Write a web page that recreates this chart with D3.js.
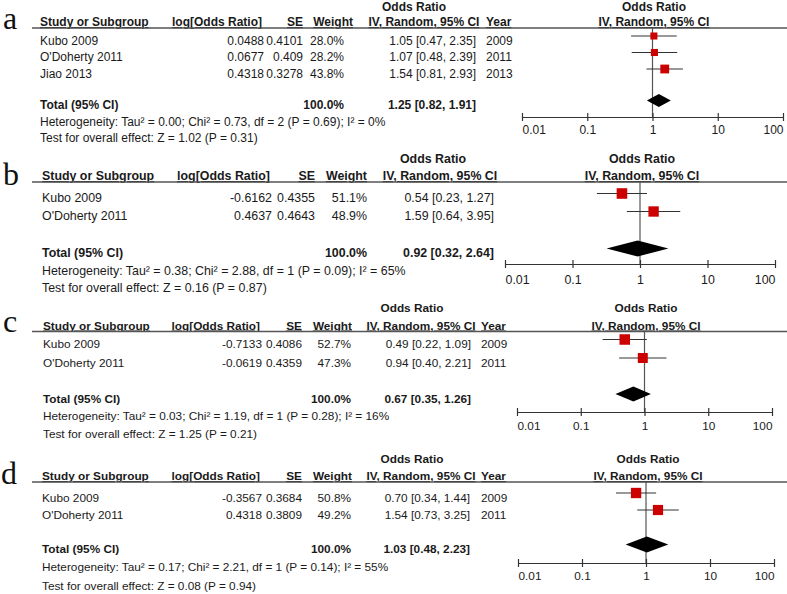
<!DOCTYPE html>
<html>
<head>
<meta charset="utf-8">
<script src="https://cdn.jsdelivr.net/npm/d3@7"></script>
<style>
  html, body { margin: 0; padding: 0; background: #fff; }
  svg { display: block; font-family: "Liberation Sans", Arial, sans-serif; }
</style>
</head>
<body>
<svg id="chart" width="787" height="594"></svg>
<script>
// ---------------- DATA ----------------
const panelLetters = ["a", "b", "c", "d"];
const studyNames = [
  ["Kubo 2009", "O'Doherty 2011", "Jiao 2013"],
  ["Kubo 2009", "O'Doherty 2011"],
  ["Kubo 2009", "O'Doherty 2011"],
  ["Kubo 2009", "O'Doherty 2011"]
];
const logOddsRatio = [
  ["0.0488", "0.0677", "0.4318"],
  ["-0.6162", "0.4637"],
  ["-0.7133", "-0.0619"],
  ["-0.3567", "0.4318"]
];
const seValues = [
  ["0.4101", "0.409", "0.3278"],
  ["0.4355", "0.4643"],
  ["0.4086", "0.4359"],
  ["0.3684", "0.3809"]
];
const weights = [
  [28.0, 28.2, 43.8],
  [51.1, 48.9],
  [52.7, 47.3],
  [50.8, 49.2]
];
const oddsRatio = [
  [1.05, 1.07, 1.54],
  [0.54, 1.59],
  [0.49, 0.94],
  [0.70, 1.54]
];
const ciLower = [
  [0.47, 0.48, 0.81],
  [0.23, 0.64],
  [0.22, 0.40],
  [0.34, 0.73]
];
const ciUpper = [
  [2.35, 2.39, 2.93],
  [1.27, 3.95],
  [1.09, 2.21],
  [1.44, 3.25]
];
const years = [
  ["2009", "2011", "2013"],
  null,
  ["2009", "2011"],
  ["2009", "2011"]
];
const totalOR = [1.25, 0.92, 0.67, 1.03];
const totalLower = [0.82, 0.32, 0.35, 0.48];
const totalUpper = [1.91, 2.64, 1.26, 2.23];
const heterogeneityText = [
  "Heterogeneity: Tau\u00B2 = 0.00; Chi\u00B2 = 0.73, df = 2 (P = 0.69); I\u00B2 = 0%",
  "Heterogeneity: Tau\u00B2 = 0.38; Chi\u00B2 = 2.88, df = 1 (P = 0.09); I\u00B2 = 65%",
  "Heterogeneity: Tau\u00B2 = 0.03; Chi\u00B2 = 1.19, df = 1 (P = 0.28); I\u00B2 = 16%",
  "Heterogeneity: Tau\u00B2 = 0.17; Chi\u00B2 = 2.21, df = 1 (P = 0.14); I\u00B2 = 55%"
];
const overallEffectText = [
  "Test for overall effect: Z = 1.02 (P = 0.31)",
  "Test for overall effect: Z = 0.16 (P = 0.87)",
  "Test for overall effect: Z = 1.25 (P = 0.21)",
  "Test for overall effect: Z = 0.08 (P = 0.94)"
];
const tickValues = [0.01, 0.1, 1, 10, 100];
const tickLabels = ["0.01", "0.1", "1", "10", "100"];

// ---------------- LAYOUT ----------------
const layout = [
  {letterX: 3, letterY: 29, oddsTopY: 11, headY: 26, ruleY: 28, rowY: [44.5, 61, 77.5], totalY: 109, hetY: 125.5, testY: 142,
   axisY: 117, tickLabOff: 17, x0: 522, x1: 783, fs: 12, studyX: 40, logX: 262, seX: 303, wHeadX: 353, wValX: 344,
   ciHeadX: 424, ciValX: 476, yearX: 486, oddsTopX: 414, plotHeadX: 654, dia: 6.5, sq: 1.33},
  {letterX: 3, letterY: 185, oddsTopY: 163, headY: 180, ruleY: 182, rowY: [202, 220], totalY: 257, hetY: 275, testY: 292,
   axisY: 264, tickLabOff: 20, x0: 505, x1: 775, fs: 12.4, studyX: 42, logX: 270, seX: 315, wHeadX: 367, wValX: 367,
   ciHeadX: 440, ciValX: 494, yearX: null, oddsTopX: 433, plotHeadX: 642, dia: 8, sq: 1.48},
  {letterX: 3, letterY: 332, oddsTopY: 312, headY: 329.5, ruleY: 331.5, rowY: [348, 366.5], totalY: 402.5, hetY: 420, testY: 438,
   axisY: 412, tickLabOff: 18, x0: 517, x1: 772, fs: 11.8, studyX: 43, logX: 260, seX: 302, wHeadX: 352, wValX: 351,
   ciHeadX: 421, ciValX: 471, yearX: 481, oddsTopX: 412, plotHeadX: 646, dia: 7.5, sq: 1.45},
  {letterX: 1, letterY: 484, oddsTopY: 463, headY: 480, ruleY: 482, rowY: [501.5, 518.5], totalY: 553, hetY: 571, testY: 589.5,
   axisY: 563, tickLabOff: 17, x0: 518, x1: 774, fs: 11.8, studyX: 42, logX: 260, seX: 302, wHeadX: 352, wValX: 351,
   ciHeadX: 421, ciValX: 470, yearX: 481, oddsTopX: 412, plotHeadX: 648, dia: 8, sq: 1.45}
];

const textColor = "#1a1a1a";
const svg = d3.select("#chart");
const fmt2 = d3.format(".2f");
const ciStr = (o, l, u) => `${fmt2(o)} [${fmt2(l)}, ${fmt2(u)}]`;

panelLetters.forEach((letter, p) => {
  const L = layout[p];
  const g = svg.append("g");
  const x = d3.scaleLog().domain([0.01, 100]).range([L.x0, L.x1]);
  const sqSize = d3.scaleSqrt().domain([0, 100]).range([0, L.sq * 10]);
  const markOff = 8.5;

  const txt = (s, tx, ty, anchor, bold, size) =>
    g.append("text").attr("x", tx).attr("y", ty)
      .attr("text-anchor", anchor || "start")
      .attr("font-size", size || L.fs)
      .attr("font-weight", bold ? "bold" : "normal")
      .attr("fill", textColor).text(s);

  // panel letter
  g.append("text").attr("x", L.letterX).attr("y", L.letterY)
    .attr("font-family", "'Liberation Serif', 'Times New Roman', serif")
    .attr("font-size", 32).attr("fill", "#111").text(letter);

  // headers
  txt("Odds Ratio", L.oddsTopX, L.oddsTopY, "middle", true);
  txt("Odds Ratio", L.plotHeadX, L.oddsTopY, "middle", true);
  const hdr = [
    ["Study or Subgroup", L.studyX, "start"],
    ["log[Odds Ratio]", L.logX, "end"],
    ["SE", L.seX, "end"],
    ["Weight", L.wHeadX, "end"],
    ["IV, Random, 95% CI", L.ciHeadX, "middle"],
    ["IV, Random, 95% CI", L.plotHeadX, "middle"]
  ];
  if (years[p]) hdr.push(["Year", L.yearX, "start"]);
  hdr.forEach(h => txt(h[0], h[1], L.headY, h[2], true).attr("text-decoration", "underline"));

  // rule
  g.append("line").attr("x1", 32).attr("x2", 787).attr("y1", L.ruleY).attr("y2", L.ruleY)
    .attr("stroke", "#555").attr("stroke-width", 1.5);

  // study rows
  studyNames[p].forEach((name, i) => {
    const y = L.rowY[i];
    txt(name, L.studyX, y, "start");
    txt(logOddsRatio[p][i], L.logX + 2, y, "end");
    txt(seValues[p][i], L.seX, y, "end");
    txt(weights[p][i].toFixed(1) + "%", L.wValX, y, "end");
    txt(ciStr(oddsRatio[p][i], ciLower[p][i], ciUpper[p][i]), L.ciValX, y, "end");
    if (years[p]) txt(years[p][i], L.yearX, y, "start");
  });

  // totals and footers
  txt("Total (95% CI)", L.studyX, L.totalY, "start", true);
  txt("100.0%", L.wValX, L.totalY, "end", true);
  txt(ciStr(totalOR[p], totalLower[p], totalUpper[p]), L.ciValX, L.totalY, "end", true);
  txt(heterogeneityText[p], L.studyX, L.hetY, "start");
  txt(overallEffectText[p], L.studyX, L.testY, "start");

  // null line
  g.append("line").attr("x1", x(1)).attr("x2", x(1)).attr("y1", L.ruleY).attr("y2", L.axisY)
    .attr("stroke", "#555").attr("stroke-width", 1.2);

  // CI lines and squares
  const rows = studyNames[p].map((n, i) => ({i, y: L.rowY[i] - markOff}));
  g.selectAll(null).data(rows).join("line")
    .attr("x1", d => x(ciLower[p][d.i])).attr("x2", d => x(ciUpper[p][d.i]))
    .attr("y1", d => d.y).attr("y2", d => d.y)
    .attr("stroke", "#333").attr("stroke-width", 1);
  g.selectAll(null).data(rows).join("rect")
    .attr("x", d => x(oddsRatio[p][d.i]) - sqSize(weights[p][d.i]) / 2)
    .attr("y", d => d.y - sqSize(weights[p][d.i]) / 2)
    .attr("width", d => sqSize(weights[p][d.i]))
    .attr("height", d => sqSize(weights[p][d.i]))
    .attr("fill", "#cc0000");

  // diamond
  const dy = L.totalY - markOff;
  const pts = [[x(totalLower[p]), dy], [x(totalOR[p]), dy - L.dia], [x(totalUpper[p]), dy], [x(totalOR[p]), dy + L.dia]];
  g.append("path").attr("d", d3.line()(pts) + "Z").attr("fill", "#000");

  // axis
  const axis = d3.axisBottom(x).tickValues(tickValues)
    .tickFormat((d, i) => tickLabels[i]).tickSizeOuter(0).tickSizeInner(4).tickPadding(L.tickLabOff - 12);
  const ag = g.append("g").attr("transform", `translate(0,${L.axisY})`).call(axis);
  ag.select(".domain").attr("stroke", "#333").attr("stroke-width", 1.2);
  ag.selectAll(".tick line").attr("y1", -4).attr("y2", 4).attr("stroke", "#333").attr("stroke-width", 1.2);
  const last = tickValues.length - 1;
  ag.selectAll(".tick text").attr("font-size", L.fs).attr("fill", textColor)
    .attr("font-family", "'Liberation Sans', Arial, sans-serif")
    .attr("dy", null).attr("y", L.tickLabOff)
    .attr("text-anchor", (d, i) => i === 0 ? "start" : (i === last ? "end" : "middle"));
});
</script>
</body>
</html>
